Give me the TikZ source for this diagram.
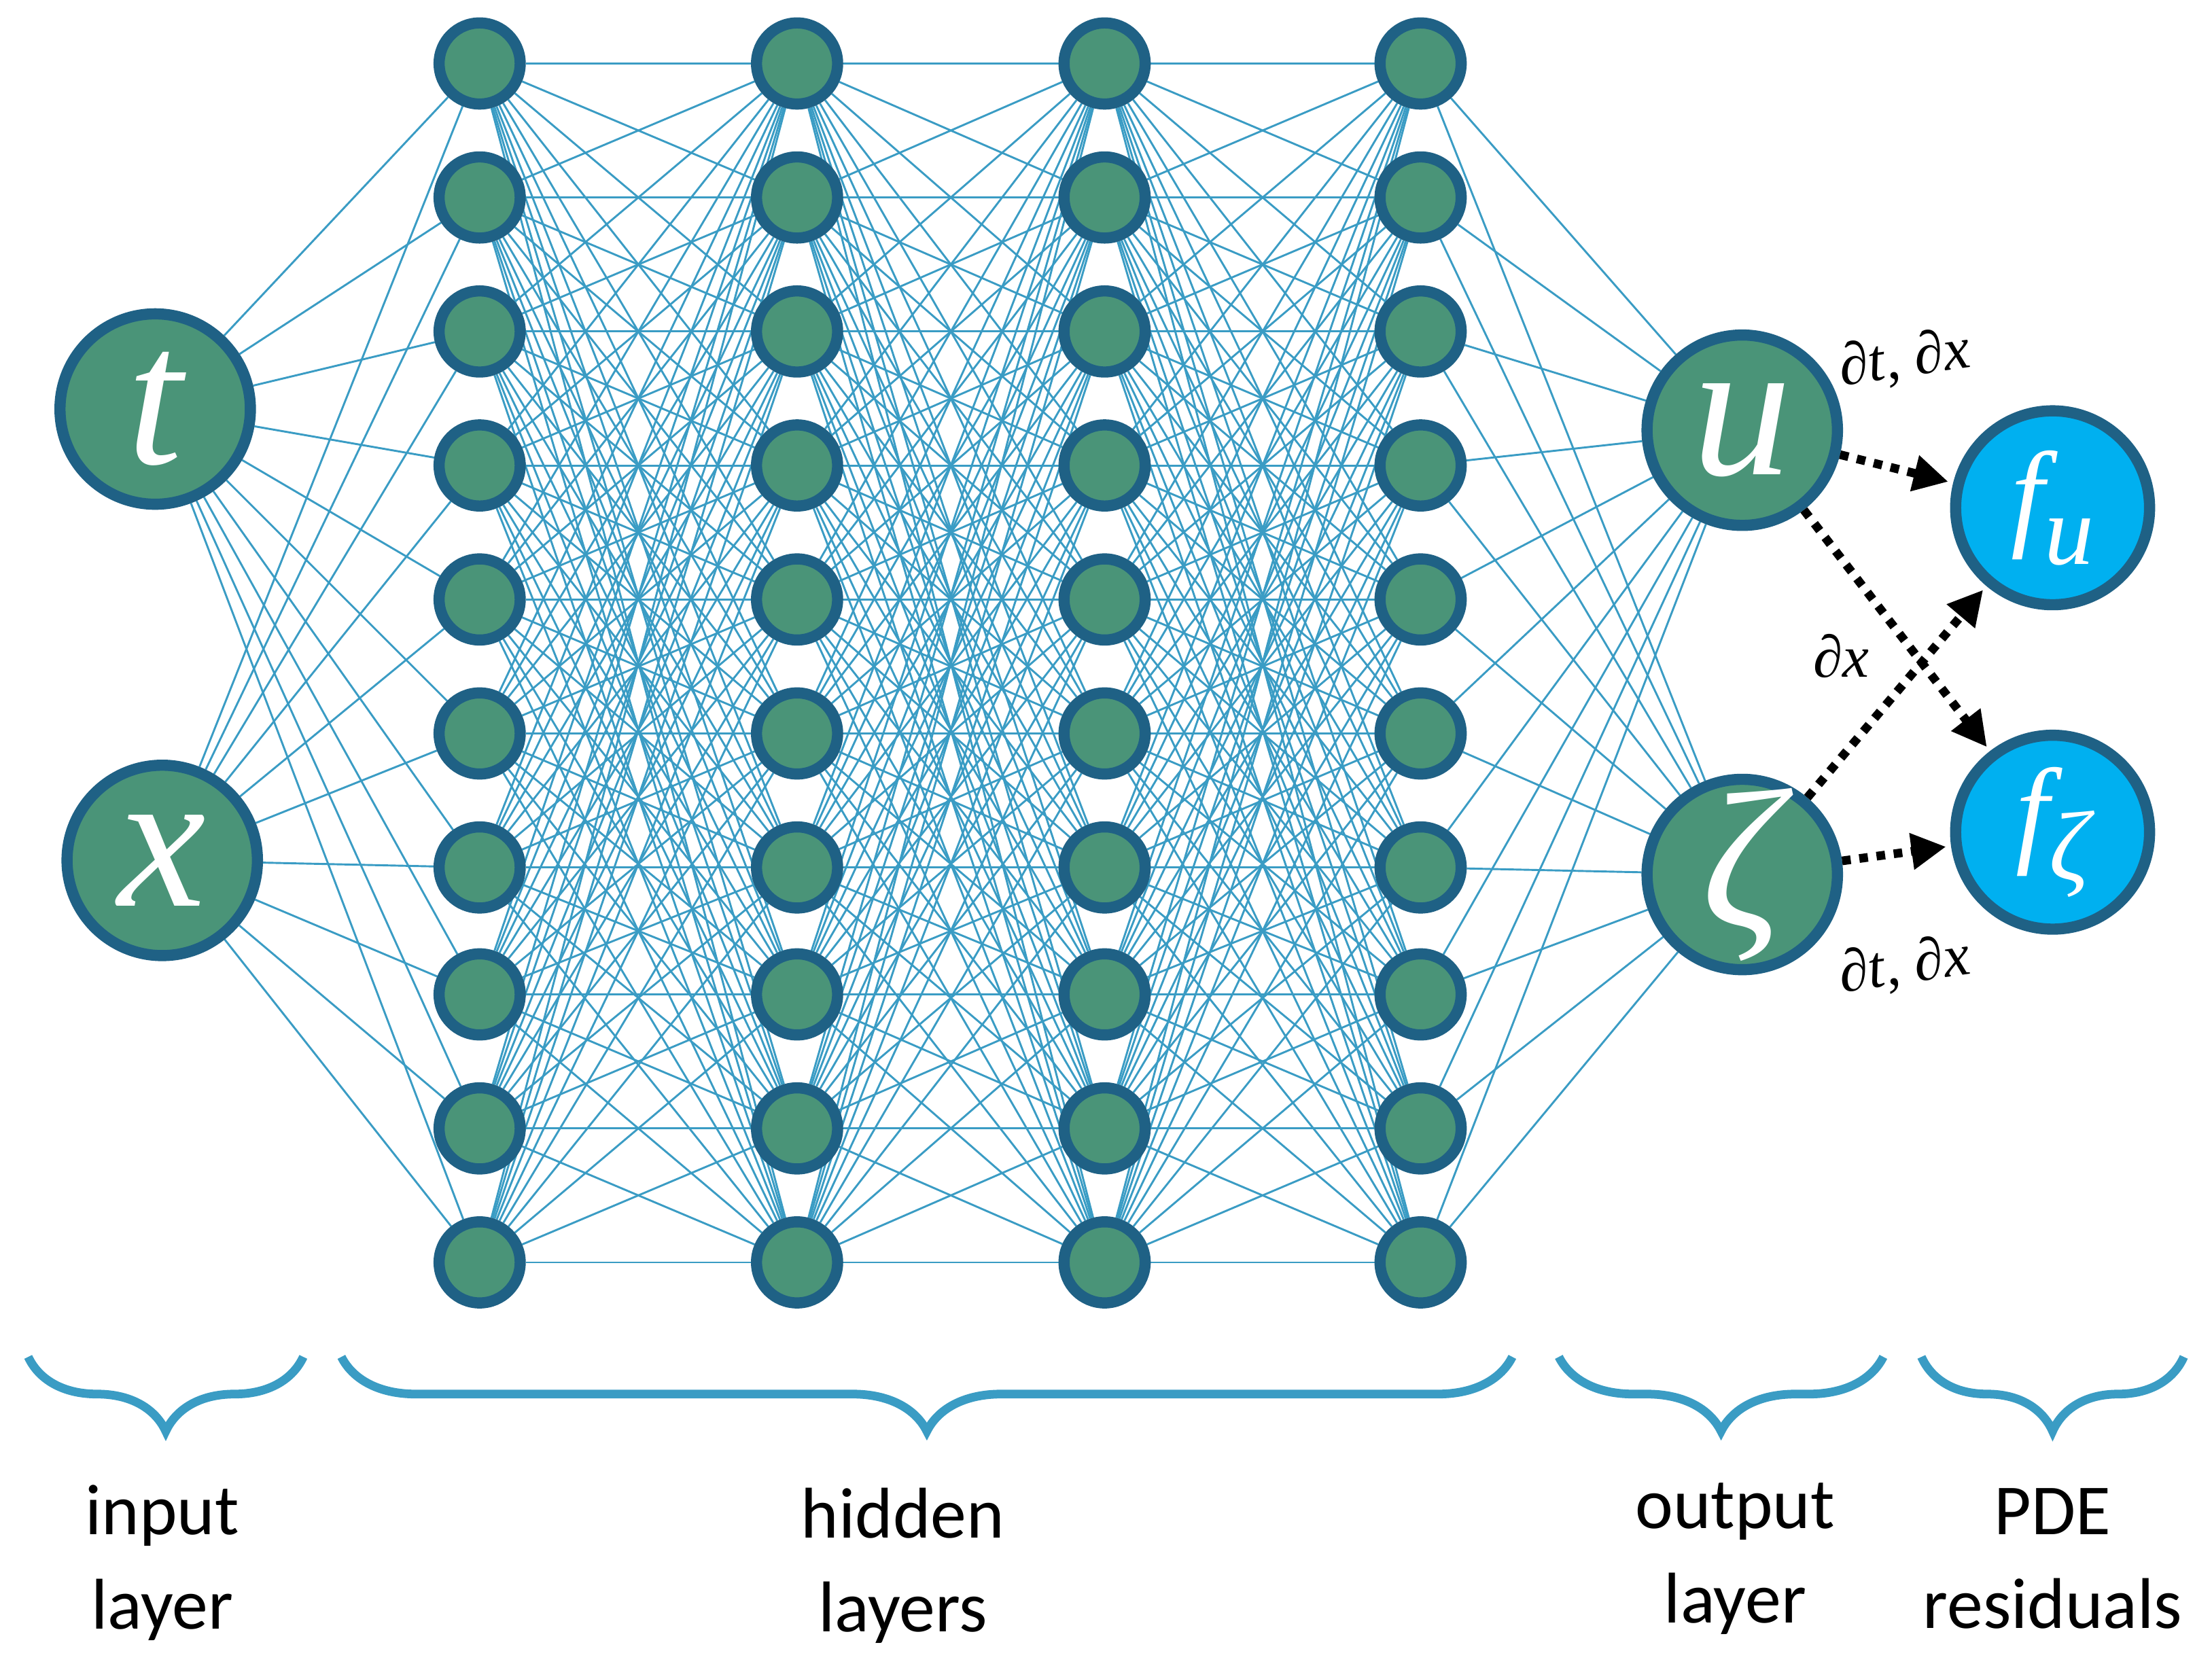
\documentclass[tikz,border=0pt]{standalone}
\usepackage{fontspec}
\setmainfont{Carlito}
\newfontfamily\mi{Liberation Serif}
\usetikzlibrary{decorations.pathreplacing,backgrounds,arrows.meta}
\definecolor{ngreen}{HTML}{4A9478}
\definecolor{nborder}{HTML}{1F6185}
\definecolor{edge}{HTML}{3A9CC4}
\definecolor{fcol}{HTML}{00B0F0}
\begin{document}
\begin{tikzpicture}[x=0.02cm,y=-0.02cm,
  hid/.style={circle,fill=ngreen,draw=nborder,line width=4.5pt,minimum size=1.15cm,inner sep=0pt},
  big/.style={circle,fill=ngreen,draw=nborder,line width=4.5pt,minimum size=2.7cm,inner sep=0pt,text=white,font=\mi\itshape\fontsize{80}{80}\selectfont},
  fres/.style={circle,fill=fcol,draw=nborder,line width=4.5pt,minimum size=2.75cm,inner sep=0pt,text=white,font=\mi\itshape\fontsize{48}{48}\selectfont},
  con/.style={edge,line width=0.8pt},
  dep/.style={black,line width=3.5pt,dash pattern=on 3.5pt off 3.5pt,-{Triangle[length=14pt,width=14pt]},shorten >=2pt},
  brace/.style={edge,line width=3.5pt,decorate,decoration={brace,mirror,amplitude=30pt,aspect=0.5}},
  lab/.style={font=\fontsize{29}{38}\selectfont,align=center},
  dl/.style={font=\mi\itshape\fontsize{24}{24}\selectfont}]
\useasboundingbox (0,0) rectangle (1568,1181);
\node[big] (t) at (110,290) {t};
\node[big] (x) at (115,610) {x};
\foreach \c/\xx in {1/340,2/565,3/783,4/1007}{
  \foreach \r/\yy in {1/45,2/140,3/235,4/330,5/425,6/520,7/615,8/705,9/800,10/895}{
    \node[hid] (h\c-\r) at (\xx,\yy) {};
  }}
\node[big] (u) at (1235,305) {u};
\node[big] (z) at (1235,620) {ζ};
\node[fres] (fu) at (1455,360) {f\raisebox{-0.25em}{\fontsize{40}{40}\selectfont u}};
\node[fres] (fz) at (1455,590) {f\raisebox{-0.25em}{\fontsize{40}{40}\selectfont ζ}};
\begin{scope}[on background layer]
\foreach \r in {1,...,10}{
  \draw[con] (t) -- (h1-\r); \draw[con] (x) -- (h1-\r);
  \draw[con] (h4-\r) -- (u); \draw[con] (h4-\r) -- (z);
  \foreach \s in {1,...,10}{
    \draw[con] (h1-\r) -- (h2-\s);
    \draw[con] (h2-\r) -- (h3-\s);
    \draw[con] (h3-\r) -- (h4-\s);
  }}
\end{scope}
\draw[dep] (u) -- (fu);
\draw[dep] (u) -- (fz);
\draw[dep] (z) -- (fu);
\draw[dep] (z) -- (fz);
\node[dl,rotate=8] (l1) at (1350,255) {∂t, ∂x};
\node[dl] (l2) at (1305,465) {∂x};
\node[dl,rotate=8] (l3) at (1350,685) {∂t, ∂x};
\coordinate (b1a) at (20,962); \coordinate (b1b) at (215,962);
\coordinate (b2a) at (242,962); \coordinate (b2b) at (1072,962);
\coordinate (b3a) at (1105,962); \coordinate (b3b) at (1335,962);
\coordinate (b4a) at (1362,962); \coordinate (b4b) at (1548,962);
\draw[brace] (b1a) -- (b1b);
\draw[brace] (b2a) -- (b2b);
\draw[brace] (b3a) -- (b3b);
\draw[brace] (b4a) -- (b4b);
\node[lab] (L1) at (115,1108) {input\\layer};
\node[lab] (L2) at (640,1110) {hidden\\layers};
\node[lab] (L3) at (1230,1105) {output\\layer};
\node[lab] (L4) at (1455,1105) {PDE\\residuals};
\end{tikzpicture}
\end{document}
